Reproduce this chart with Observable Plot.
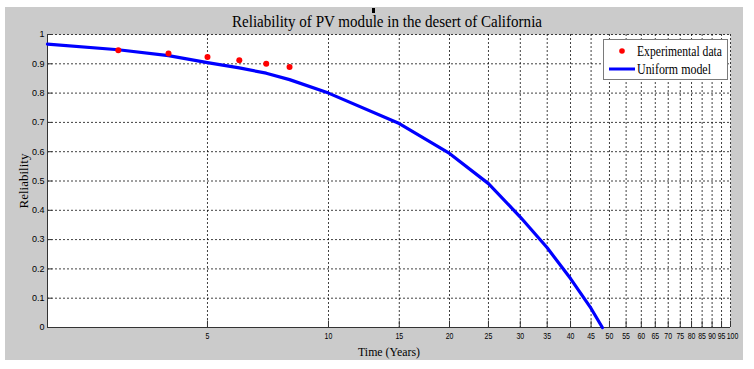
<!DOCTYPE html>
<html><head><meta charset="utf-8">
<script src="https://cdn.jsdelivr.net/npm/d3@7"></script>
<script src="https://cdn.jsdelivr.net/npm/@observablehq/plot@0.6"></script>
<style>
body{margin:0;background:#fff;}
#fig{position:relative;width:754px;height:369px;overflow:hidden;}
#bg{position:absolute;left:5px;top:7px;width:738px;height:353px;background:#cbcbcb;}
#chart{position:absolute;left:0;top:0;}
#legend{position:absolute;left:603px;top:39px;}
#mark{position:absolute;left:372px;top:8px;width:3px;height:5px;background:#000;}
</style></head><body>
<div id="fig"><div id="bg"></div><div id="mark"></div><div id="chart"></div><div id="legend"></div></div>
<script>
const title = "Reliability of PV module in the desert of California";
const xLabel = "Time (Years)";
const yLabel = "Reliability";
const legendLabels = ["Experimental data", "Uniform model"];
const expYears = [3, 4, 5, 6, 7, 8];
const expReliability = [0.946, 0.935, 0.923, 0.912, 0.900, 0.889];
const modelYears = [2, 3, 4, 5, 6, 7, 8, 10, 15, 20, 25, 30, 35, 40, 45, 48];
const modelReliability = [0.967, 0.948, 0.928, 0.904, 0.886, 0.868, 0.846, 0.800, 0.696, 0.594, 0.491, 0.377, 0.272, 0.167, 0.065, 0];
const xTicks = [5, 10, 15, 20, 25, 30, 35, 40, 45, 50, 55, 60, 65, 70, 75, 80, 85, 90, 95, 100];
const yTicks = [0, 0.1, 0.2, 0.3, 0.4, 0.5, 0.6, 0.7, 0.8, 0.9, 1];

const expData = expYears.map((t, i) => ({t, r: expReliability[i]}));
const modelData = modelYears.map((t, i) => ({t, r: modelReliability[i]}));
const dotted = {stroke: "#000", strokeOpacity: 0.75, strokeWidth: 1, strokeDasharray: "2,2"};
const serif = "'Liberation Serif', 'Times New Roman', serif";
const sans = "'Liberation Sans', Arial, sans-serif";
const lastTick = xTicks[xTicks.length - 1];
const xTickStyle = {y: 0, text: d => String(d), dy: 5, lineAnchor: "top", fontSize: 8.5, fontFamily: sans, fill: "#000"};

const chart = Plot.plot({
  width: 754, height: 369,
  marginLeft: 47, marginRight: 24, marginTop: 34, marginBottom: 42,
  style: {background: "transparent", fontFamily: sans, fontSize: "9px", color: "#000"},
  x: {type: "log", domain: [2, 100], axis: null},
  y: {domain: [0, 1], axis: null},
  marks: [
    Plot.frame({fill: "#fff", stroke: "none"}),
    Plot.gridX(xTicks, dotted),
    Plot.gridY(yTicks, dotted),
    Plot.ruleY([0], {stroke: "#333"}),
    Plot.ruleX([2], {stroke: "#333"}),
    Plot.ruleX(xTicks, {y1: 0, y2: 0.022, stroke: "#333"}),
    Plot.ruleY(yTicks, {x1: 2, x2: 2.06, stroke: "#333"}),
    Plot.line(modelData, {x: "t", y: "r", stroke: "#0000ff", strokeWidth: 3.2}),
    Plot.dot(expData, {x: "t", y: "r", r: 3, fill: "#ff0000", stroke: "none"}),
    Plot.text(xTicks.slice(0, -1), {x: d => d, ...xTickStyle}),
    Plot.text([lastTick], {x: d => d, dx: 2, ...xTickStyle}),
    Plot.text(yTicks, {x: 2, y: d => d, text: d => d === 0 ? "0" : d === 1 ? "1" : d.toFixed(1), dx: -3, textAnchor: "end", fontSize: 9, fontFamily: sans, fill: "#000"}),
    Plot.text([title], {text: d => d, frameAnchor: "top", dx: -2, dy: -8, lineAnchor: "bottom", fontSize: 17, fontFamily: serif, fill: "#000"}),
    Plot.text([xLabel], {text: d => d, frameAnchor: "bottom", dy: 28, lineAnchor: "bottom", fontSize: 13, fontFamily: serif, fill: "#000"}),
    Plot.text([yLabel], {text: d => d, frameAnchor: "left", dx: -24, rotate: -90, textAnchor: "middle", lineAnchor: "middle", fontSize: 13, fontFamily: serif, fill: "#000"})
  ]
});
document.getElementById("chart").appendChild(chart);

// legend
const leg = d3.select("#legend").append("svg").attr("width", 140).attr("height", 41);
leg.append("rect").attr("x", 0.5).attr("y", 0.5).attr("width", 124).attr("height", 40)
  .attr("fill", "#fff").attr("stroke", "#7a7a7a");
leg.append("circle").attr("cx", 19).attr("cy", 12).attr("r", 2.8).attr("fill", "#ff0000");
leg.append("line").attr("x1", 6).attr("x2", 32).attr("y1", 30).attr("y2", 30)
  .attr("stroke", "#0000ff").attr("stroke-width", 3);
legendLabels.forEach((s, i) => {
  leg.append("text").attr("x", 34).attr("y", i === 0 ? 12 : 30).attr("dy", "0.35em")
    .attr("font-family", serif).attr("font-size", 14).attr("fill", "#000").text(s);
});

// horizontal condensation of text to mimic the reference
const widths = {[title]: 310, [xLabel]: 62, [legendLabels[0]]: 85, [legendLabels[1]]: 74};
const xTickSet = new Set(xTicks.map(String));
const tickTexts = [];
document.querySelectorAll("#fig text").forEach(el => {
  const s = el.textContent;
  if (s in widths) {
    el.setAttribute("textLength", widths[s]);
    el.setAttribute("lengthAdjust", "spacingAndGlyphs");
  } else if (xTickSet.has(s) && el.getAttribute("text-anchor") !== "end") {
    tickTexts.push(el);
  }
});
tickTexts.forEach(el => {
  const w = el.getComputedTextLength();
  el.setAttribute("textLength", (w * 0.82).toFixed(2));
  el.setAttribute("lengthAdjust", "spacingAndGlyphs");
});
</script>
</body></html>
